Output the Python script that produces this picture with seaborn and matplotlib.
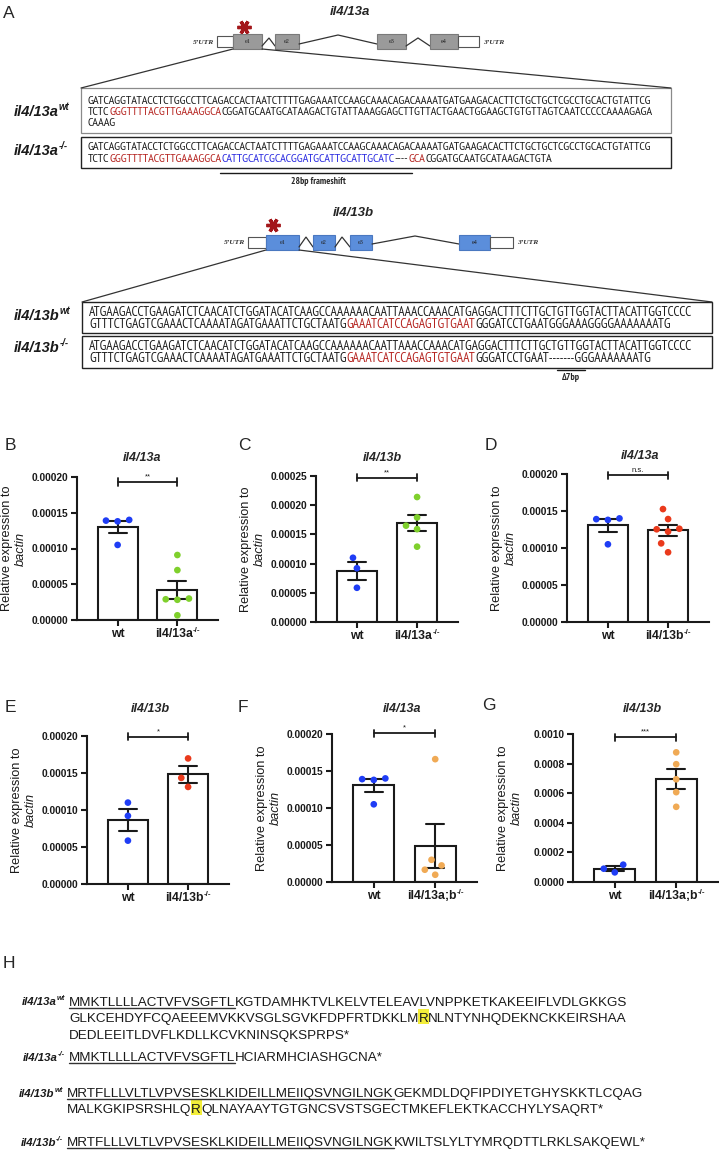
import numpy as np
import pandas as pd
import matplotlib
matplotlib.use("Agg")
import matplotlib.pyplot as plt
import seaborn as sns
from matplotlib import font_manager as fm
from matplotlib.patches import Rectangle
from matplotlib.ticker import FormatStrFormatter

# ---------------- data ----------------
B_wt = [0.000138, 0.000140, 0.000139, 0.000105]
B_mut = [0.0000909, 0.0000698, 0.0000290, 0.0000283, 0.0000300, 0.0000066]
C_wt = [0.000110, 0.0000921, 0.0000586]
C_mut = [0.000214, 0.000179, 0.000165, 0.000159, 0.000129]
D_wt = [0.000138, 0.000140, 0.000139, 0.000105]
D_mut = [0.0001526, 0.0001391, 0.0001253, 0.0001260, 0.0001222, 0.0001063, 0.0000942]
E_wt = [0.000110, 0.0000921, 0.0000586]
E_mut = [0.0001697, 0.0001434, 0.0001312]
F_wt = [0.000138, 0.000140, 0.000139, 0.000105]
F_mut = [0.000166, 0.0000300, 0.0000224, 0.0000166, 0.0000098]
G_wt = [0.000117, 0.0000899, 0.0000652]
G_mut = [0.000876, 0.000796, 0.000694, 0.000607, 0.000508]

groups_a = ["wt", "il4/13a-/-"]
groups_b = ["wt", "il4/13b-/-"]
groups_ab = ["wt", "il4/13a;b-/-"]
panel_titles = ["il4/13a", "il4/13b", "il4/13a", "il4/13b", "il4/13a", "il4/13b"]
sig_marks = ["**", "**", "n.s.", "*", "*", "***"]
sig_levels = [0.000193, 0.000247, 0.000198, 0.000199, 0.000201, 0.000978]
y_max = [0.0002, 0.00025, 0.0002, 0.0002, 0.0002, 0.0010]
y_step = [0.00005, 0.00005, 0.00005, 0.00005, 0.00005, 0.0002]
y_fmt = ["%.5f", "%.5f", "%.5f", "%.5f", "%.5f", "%.4f"]

BLUE, GREEN, RED, ORANGE = "#1f3df5", "#7fd02c", "#ea3a1c", "#f0aa55"

# sequences (panel A)
a_wt_l1 = "GATCAGGTATACCTCTGGCCTTCAGACCACTAATCTTTTGAGAAATCCAAGCAAACAGACAAAATGATGAAGACACTTCTGCTGCTCGCCTGCACTGTATTCG"
a_wt_l2 = ["TCTC", "GGGTTTTACGTTGAAAGGCA", "CGGATGCAATGCATAAGACTGTATTAAAGGAGCTTGTTACTGAACTGGAAGCTGTGTTAGTCAATCCCCCAAAAGAGA"]
a_wt_l3 = "CAAAG"
a_mut_l2 = ["TCTC", "GGGTTTTACGTTGAAAGGCA", "CATTGCATCGCACGGATGCATTGCATTGCATC", "----", "GCA", "CGGATGCAATGCATAAGACTGTA"]
b_wt_l1 = "ATGAAGACCTGAAGATCTCAACATCTGGATACATCAAGCCAAAAAACAATTAAACCAAACATGAGGACTTTCTTGCTGTTGGTACTTACATTGGTCCCC"
b_wt_l2 = ["GTTTCTGAGTCGAAACTCAAAATAGATGAAATTCTGCTAATG", "GAAATCATCCAGAGTGTGAAT", "GGGATCCTGAATGGGAAAGGGGAAAAAAATG"]
b_mut_l2 = ["GTTTCTGAGTCGAAACTCAAAATAGATGAAATTCTGCTAATG", "GAAATCATCCAGAGTGTGAAT", "GGGATCCTGAAT-------GGGAAAAAAATG"]

# protein sequences (panel H)
p_a_wt = [["MMKTLLLLACTVFVSGFTL", "KGTDAMHKTVLKELVTELEAVLVNPPKETKAKEEIFLVDLGKKGS"],
          ["GLKCEHDYFCQAEEEMVKKVSGLSGVKFDPFRTDKKLM", "R", "NLNTYNHQDEKNCKKEIRSHAA"],
          ["DEDLEEITLDVFLKDLLKCVKNINSQKSPRPS*"]]
p_a_mut = ["MMKTLLLLACTVFVSGFTL", "HCIARMHCIASHGCNA*"]
p_b_wt = [["MRTFLLLVLTLVPVSESKLKIDEILLMEIIQSVNGILNGK", "GEKMDLDQFIPDIYETGHYSKKTLCQAG"],
          ["MALKGKIPSRSHLQ", "R", "QLNAYAAYTGTGNCSVSTSGECTMKEFLEKTKACCHYLYSAQRT*"]]
p_b_mut = ["MRTFLLLVLTLVPVSESKLKIDEILLMEIIQSVNGILNGK", "KWILTSLYLTYMRQDTTLRKLSAKQEWL*"]

# ---------------- setup ----------------
W, H = 719, 1153
sns.set_theme(style="ticks")
plt.rcParams["font.family"] = ["Liberation Sans", "DejaVu Sans"]

names = {f.name for f in fm.fontManager.ttflist}


def pick(cands, default):
    for c in cands:
        if c in names:
            return c
    return default


NARROW = pick(["Liberation Sans Narrow", "Arial Narrow", "PT Sans Narrow", "Archivo Narrow",
               "Roboto Condensed"], "Liberation Sans")
SERIF = pick(["Liberation Serif", "Tinos"], "DejaVu Serif")
SANS = "Liberation Sans"
INK = "#1a1a1a"

fig = plt.figure(figsize=(W / 100, H / 100), dpi=100)
fig.patch.set_facecolor("white")
ov = fig.add_axes([0, 0, 1, 1], zorder=10)
ov.set_xlim(0, W)
ov.set_ylim(H, 0)
ov.axis("off")
R = fig.canvas.get_renderer()


def rich(x, y, segs, size, family=SANS, weight="normal", style="normal",
         ha="left", color=INK):
    items = []
    for seg in segs:
        if isinstance(seg, str):
            seg = (seg, {})
        s, o = seg
        t = ov.text(0, y - o.get("rise", 0), s, fontsize=size * o.get("scale", 1.0),
                    family=o.get("family", family), weight=o.get("weight", weight),
                    style=o.get("style", style), color=o.get("color", color),
                    va="baseline", ha="left", zorder=3)
        w = t.get_window_extent(R).width
        items.append((t, w, o))
    total = sum(w for _, w, _ in items)
    x0 = x - total if ha == "right" else (x - total / 2 if ha == "center" else x)
    cur = x0
    for t, w, o in items:
        t.set_x(cur)
        if o.get("underline"):
            ov.plot([cur, cur + w], [y + 2.4, y + 2.4], color="#333333", lw=1.0)
        if o.get("hl"):
            ov.add_patch(Rectangle((cur - 0.5, y - size * 1.3), w + 1.0, size * 1.55,
                                   facecolor="#f3ee3a", edgecolor="none", zorder=1))
        cur += w
    return x0, cur


def fit_size(s, target, family, weight="normal", style="normal"):
    t = ov.text(0, 0, s, fontsize=10, family=family, weight=weight, style=style)
    w = t.get_window_extent(R).width
    t.remove()
    return 10 * target / w


def label_sup(x, y, base, sup, size, ha="left", style="italic", family=SANS):
    rich(x, y, [(base, {}), (sup, {"scale": 0.66, "rise": size * 0.6})], size,
         weight="bold", style=style, ha=ha, family=family)


# ---------------- panel A ----------------
ov.text(9, 13, "A", fontsize=12.5, ha="center", va="center")
ov.text(350, 12, "il4/13a", fontsize=9.5, weight="bold", style="italic", ha="center", va="center")
ov.text(353, 213, "il4/13b", fontsize=9.5, weight="bold", style="italic", ha="center", va="center")

GREY_EX, GREY_EDGE = "#9a9a9a", "#7a7a7a"
BLUE_EX, BLUE_EDGE = "#5b8edb", "#4a78c0"


def box(x0, x1, y0, y1, fc, ec, lw=0.8, label=None):
    ov.add_patch(Rectangle((x0, y0), x1 - x0, y1 - y0, facecolor=fc, edgecolor=ec, lw=lw, zorder=2))
    if label:
        ov.text((x0 + x1) / 2, (y0 + y1) / 2, label, fontsize=4.5, family=SERIF,
                ha="center", va="center", color="#222222", zorder=3)


def pline(xs, ys, lw=0.9, color="#333333"):
    ov.plot(xs, ys, color=color, lw=lw, solid_joinstyle="miter", zorder=2)


# il4/13a gene model
ov.plot([244], [27], marker=(6, 2, 90), ms=10, mew=2.4, color="#a3161a")
box(217, 233, 36, 47, "white", "#555555")
box(233, 262, 34, 49, GREY_EX, GREY_EDGE, label="e1")
pline([262, 269, 275], [46, 38, 46])
box(275, 299, 34, 49, GREY_EX, GREY_EDGE, label="e2")
pline([299, 338, 377], [44, 35, 44])
box(377, 406, 34, 49, GREY_EX, GREY_EDGE, label="e3")
pline([406, 418, 430], [46, 38, 46])
box(430, 458, 34, 49, GREY_EX, GREY_EDGE, label="e4")
box(458, 479, 36, 47, "white", "#555555")
ov.text(214, 43, "5\u2019UTR", fontsize=5.4, family=SERIF, style="italic", weight="bold",
        ha="right", va="center", color="#333333")
ov.text(483, 43, "3\u2019UTR", fontsize=5.4, family=SERIF, style="italic", weight="bold",
        ha="left", va="center", color="#333333")
pline([233, 81], [49, 88])
pline([262, 671], [49, 88])

ov.add_patch(Rectangle((81, 88), 590, 45, facecolor="none", edgecolor="#8a8a8a", lw=0.9))
ov.add_patch(Rectangle((81, 137), 590, 31, facecolor="none", edgecolor="#222222", lw=1.0))
dsz = fit_size(a_wt_l1, 571, NARROW)
DRED, DBLUE = "#b5231f", "#2a2ae0"
rich(88, 103.5, [a_wt_l1], dsz, family=NARROW)
rich(88, 115, [a_wt_l2[0], (a_wt_l2[1], {"color": DRED}), a_wt_l2[2]], dsz, family=NARROW)
rich(88, 126.5, [a_wt_l3], dsz, family=NARROW)
rich(88, 150.5, [a_wt_l1], dsz, family=NARROW)
rich(88, 162.5, [a_mut_l2[0], (a_mut_l2[1], {"color": DRED}), (a_mut_l2[2], {"color": DBLUE}),
                 a_mut_l2[3], (a_mut_l2[4], {"color": DRED}), a_mut_l2[5]], dsz, family=NARROW)
label_sup(14, 116, "il4/13a", "wt", 10.5)
label_sup(14, 155, "il4/13a", "-/-", 10.5)
ov.plot([220, 412], [173, 173], color=INK, lw=1.0)
ov.text(318, 182, "28bp frameshift", fontsize=6.8, family=NARROW, weight="bold", ha="center", va="center")

# il4/13b gene model
ov.plot([273], [225], marker=(6, 2, 90), ms=10, mew=2.4, color="#a3161a")
box(248, 266, 237, 248, "white", "#555555")
box(266, 299, 235, 250, BLUE_EX, BLUE_EDGE, label="e1")
pline([299, 306, 313], [247, 237, 247])
box(313, 335, 235, 250, BLUE_EX, BLUE_EDGE, label="e2")
pline([335, 342, 350], [247, 237, 247])
box(350, 372, 235, 250, BLUE_EX, BLUE_EDGE, label="e3")
pline([372, 415, 459], [244, 236, 244])
box(459, 490, 235, 250, BLUE_EX, BLUE_EDGE, label="e4")
box(490, 513, 237, 248, "white", "#555555")
ov.text(245, 243, "5\u2019UTR", fontsize=5.4, family=SERIF, style="italic", weight="bold",
        ha="right", va="center", color="#333333")
ov.text(517, 243, "3\u2019UTR", fontsize=5.4, family=SERIF, style="italic", weight="bold",
        ha="left", va="center", color="#333333")
pline([266, 82], [250, 302])
pline([299, 712], [250, 302])

ov.add_patch(Rectangle((82, 302), 630, 31, facecolor="none", edgecolor="#222222", lw=1.0))
ov.add_patch(Rectangle((82, 336), 630, 32, facecolor="none", edgecolor="#222222", lw=1.0))
dsz2 = fit_size(b_wt_l1, 608, NARROW)
rich(89, 315.5, [b_wt_l1], dsz2, family=NARROW)
rich(89, 327.5, [b_wt_l2[0], (b_wt_l2[1], {"color": DRED}), b_wt_l2[2]], dsz2, family=NARROW)
rich(89, 349.5, [b_wt_l1], dsz2, family=NARROW)
rich(89, 361.5, [b_mut_l2[0], (b_mut_l2[1], {"color": DRED}), b_mut_l2[2]], dsz2, family=NARROW)
label_sup(14, 320, "il4/13b", "wt", 10.5)
label_sup(14, 352, "il4/13b", "-/-", 10.5)
ov.plot([557, 585], [370, 370], color=INK, lw=1.0)
ov.text(571, 378, "\u03947bp", fontsize=7, family=NARROW, weight="bold", ha="center", va="center")

# ---------------- bar panels B-G ----------------
panels = [
    dict(rect=(77, 218, 477, 620), wt=B_wt, mut=B_mut, groups=groups_a, col=GREEN,
         letter=("B", 10, 445), title_xy=(142, 458)),
    dict(rect=(316, 458, 476, 622), wt=C_wt, mut=C_mut, groups=groups_a, col=GREEN,
         letter=("C", 244, 445), title_xy=(382, 458)),
    dict(rect=(567, 709, 474, 622), wt=D_wt, mut=D_mut, groups=groups_b, col=RED,
         letter=("D", 491, 445), title_xy=(640, 456)),
    dict(rect=(87, 229, 736, 884), wt=E_wt, mut=E_mut, groups=groups_b, col=RED,
         letter=("E", 10, 707), title_xy=(150, 709)),
    dict(rect=(332, 477, 734, 882), wt=F_wt, mut=F_mut, groups=groups_ab, col=ORANGE,
         letter=("F", 243, 707), title_xy=(402, 709)),
    dict(rect=(573, 718, 734, 882), wt=G_wt, mut=G_mut, groups=groups_ab, col=ORANGE,
         letter=("G", 489, 706), title_xy=(642, 709)),
]

inv = ov.transData.inverted()
for i, p in enumerate(panels):
    l, r, top, bot = p["rect"]
    ax = fig.add_axes([l / W, 1 - bot / H, (r - l) / W, (bot - top) / H])
    ax.patch.set_alpha(0)
    grp = p["groups"]
    df = pd.DataFrame({"group": [grp[0]] * len(p["wt"]) + [grp[1]] * len(p["mut"]),
                       "value": p["wt"] + p["mut"]})
    sns.barplot(data=df, x="group", y="value", order=grp, errorbar="se", capsize=0.3,
                color="white", edgecolor=INK, linewidth=1.5, width=0.667,
                err_kws={"color": INK, "linewidth": 1.5}, ax=ax)
    sns.swarmplot(data=df, x="group", y="value", order=grp, hue="group", hue_order=grp,
                  palette=[BLUE, p["col"]], size=4.8, linewidth=3.2, legend=False, ax=ax, zorder=3)
    for c in ax.collections:
        c.set_edgecolor("none")
    ymax, step = y_max[i], y_step[i]
    ax.set_ylim(0, ymax)
    ax.set_xlim(-0.68, 1.68)
    ax.set_yticks(np.arange(0, ymax + step / 2, step))
    ax.yaxis.set_major_formatter(FormatStrFormatter(y_fmt[i]))
    ax.set_xlabel("")
    ax.set_ylabel("")
    sns.despine(ax=ax)
    for sp in ["left", "bottom"]:
        ax.spines[sp].set_linewidth(1.5)
        ax.spines[sp].set_color(INK)
    ax.tick_params(axis="both", length=4, width=1.5, color=INK, pad=2)
    for t in ax.get_yticklabels():
        t.set_fontsize(7.4)
        t.set_fontweight("bold")
        t.set_color(INK)
    ax.set_xticks([0, 1])
    ax.set_xticklabels(["", ""])
    # category labels with superscript genotype
    for k, g in enumerate(grp):
        xd = inv.transform(ax.transData.transform((k, 0)))[0]
        if g.endswith("-/-"):
            label_sup(xd, bot + 17, g[:-3], "-/-", 8.8, ha="center", style="normal")
        else:
            rich(xd, bot + 17, [g], 8.8, weight="bold", ha="center")
    # significance bracket
    pxu = (bot - top) / ymax
    lev = sig_levels[i]
    d = 3.6 / pxu
    ax.plot([0, 1], [lev, lev], color=INK, lw=1.3, clip_on=False)
    for xx in (0, 1):
        ax.plot([xx, xx], [lev - d, lev + d], color=INK, lw=1.3, clip_on=False)
    ax.text(0.5, lev + 1.5 / pxu, sig_marks[i], ha="center", va="bottom", fontsize=5.5,
            color=INK, clip_on=False)
    # labels
    L, lx, ly = p["letter"]
    ov.text(lx, ly, L, fontsize=12.5, ha="center", va="center")
    ov.text(p["title_xy"][0], p["title_xy"][1], panel_titles[i], fontsize=9, weight="bold",
            style="italic", ha="center", va="center")
    ymid = (top + bot) / 2
    ov.text(l - 70, ymid, "Relative expression to", fontsize=9.2, rotation=90,
            ha="center", va="center", color=INK)
    ov.text(l - 56, ymid, "bactin", fontsize=9.2, style="italic", rotation=90,
            ha="center", va="center", color=INK)

# ---------------- panel H ----------------
ov.text(9, 963, "H", fontsize=12.5, ha="center", va="center")
psz = fit_size(p_a_wt[0][0] + p_a_wt[0][1], 558, SANS)
U = {"underline": True}
HL = {"hl": True}
rich(69, 1006, [(p_a_wt[0][0], U), p_a_wt[0][1]], psz)
rich(69, 1022, [p_a_wt[1][0], (p_a_wt[1][1], HL), p_a_wt[1][2]], psz)
rich(69, 1039, [p_a_wt[2][0]], psz)
rich(69, 1061, [(p_a_mut[0], U), p_a_mut[1]], psz)
rich(67, 1097, [(p_b_wt[0][0], U), p_b_wt[0][1]], psz)
rich(67, 1113, [p_b_wt[1][0], (p_b_wt[1][1], HL), p_b_wt[1][2]], psz)
rich(67, 1146, [(p_b_mut[0], U), p_b_mut[1]], psz)
label_sup(65, 1005, "il4/13a", "wt", 8.2, ha="right")
label_sup(65, 1061, "il4/13a", "-/-", 8.2, ha="right")
label_sup(63, 1097, "il4/13b", "wt", 8.2, ha="right")
label_sup(63, 1146, "il4/13b", "-/-", 8.2, ha="right")

fig.savefig("out.png", dpi=100, facecolor="white")
